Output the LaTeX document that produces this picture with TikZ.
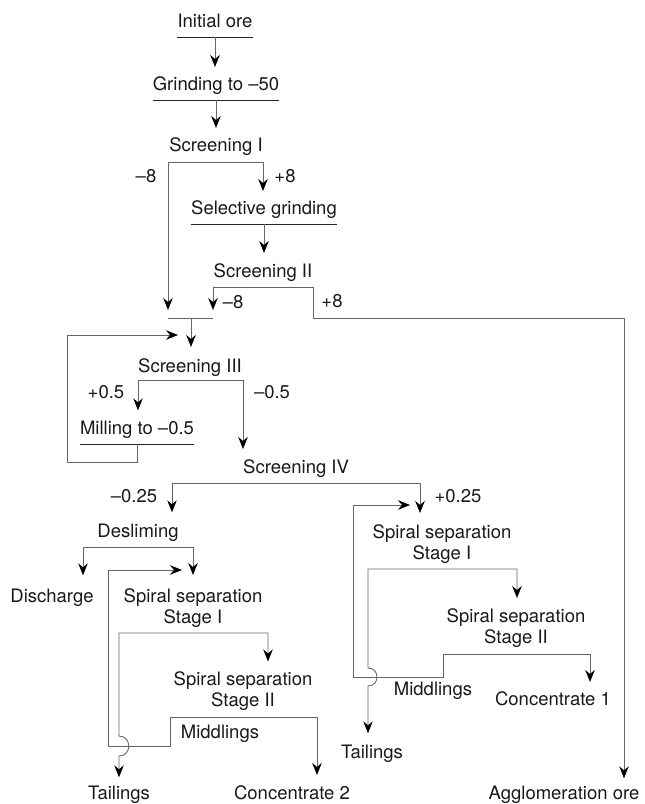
\documentclass[tikz,border=0pt]{standalone}
\usepackage{fontspec}
\setmainfont{TeX Gyre Heros}
\usetikzlibrary{arrows.meta}

\tikzset{
  txt/.style={anchor=base, inner sep=0pt, text=black!90, align=center,
    font=\fontsize{18.5}{21}\selectfont},
  flow/.style={draw=black!60, line width=0.9pt},
  underbar/.style={draw=black!85, line width=0.9pt},
  arr/.style={-{Stealth[length=12pt,width=9.5pt,inset=4pt,color=black]}},
  arrs/.style={{Stealth[length=12pt,width=9.5pt,inset=4pt,color=black]}-{Stealth[length=12pt,width=9.5pt,inset=4pt,color=black]}},
}

\begin{document}
\begin{tikzpicture}[x=1pt,y=-1pt]
\useasboundingbox (0,0) rectangle (645,804);

% stages (two-line nodes sit on their last line)
\node[txt] (ore)    at (215,27)  {Initial ore};
\node[txt] (grind)  at (216,90)  {Grinding to –50};
\node[txt] (scrI)   at (216,151) {Screening I};
\node[txt] (selgr)  at (264,214) {Selective grinding};
\node[txt] (scrII)  at (263,277) {Screening II};
\node[txt] (scrIII) at (190,372) {Screening III};
\node[txt] (mill)   at (137,434) {Milling to –0.5};
\node[txt,anchor=base west] (scrIV) at (243,473) {Screening IV};
\node[txt] (desl)   at (138,537) {Desliming};
\node[txt] (disch)  at (52,602)  {Discharge};
\node[txt] (spIL)   at (193,623) {Spiral separation\\Stage I};
\node[txt] (spIIL)  at (243,706) {Spiral separation\\Stage II};
\node[txt] (midL)   at (220,738) {Middlings};
\node[txt] (tailL)  at (119,799) {Tailings};
\node[txt] (concII) at (292,799) {Concentrate 2};
\node[txt] (spIR)   at (442,559) {Spiral separation\\Stage I};
\node[txt] (spIIR)  at (516,643) {Spiral separation\\Stage II};
\node[txt] (midR)   at (433,695) {Middlings};
\node[txt] (concI)  at (553,705) {Concentrate 1};
\node[txt] (tailR)  at (372,758) {Tailings};
\node[txt] (aggl)   at (564,799) {Agglomeration ore};

% size classes
\node[txt] (mI)   at (146,182) {–8};
\node[txt] (pI)   at (285,182) {+8};
\node[txt] (mII)  at (233,308) {–8};
\node[txt] (pII)  at (332,307) {+8};
\node[txt] (pIII) at (106,398) {+0.5};
\node[txt] (mIII) at (272,398) {–0.5};
\node[txt] (mIV)  at (134,502) {–0.25};
\node[txt] (pIV)  at (458,502) {+0.25};

% underlines
\foreach \n in {ore,grind,selgr,mill}
  \draw[underbar] ([yshift=-10pt]\n.base west) -- ([yshift=-10pt]\n.base east);

% straight feeds
\draw[flow,arr,shorten >=9pt] ([yshift=-10pt]ore.base) -- (ore.base |- grind.north);
\draw[flow,arr,shorten >=9pt] ([yshift=-10pt]grind.base) -- (grind.base |- scrI.north);
\draw[flow,arr,shorten >=10pt] ([yshift=-10pt]selgr.base) -- (selgr.base |- scrII.north);

% screening I and II, merge
\coordinate (sIa) at (168,162);
\coordinate (sIb) at (263,162);
\coordinate (sIIa) at (213,287);
\coordinate (sIIb) at (313,287);
\coordinate (sIIc) at (313,318);
\coordinate (aggA) at (624,318);
\coordinate (mgA) at (168,318);
\coordinate (mgB) at (213,318);
\coordinate (mgC) at (191,318);
\draw[flow,arrs,shorten <=8pt,shorten >=9pt] (mgA) -- (sIa) -- (sIb) -- (sIb |- selgr.north);
\draw[flow,arrs,shorten <=8pt,shorten >=7pt] (mgB) -- (sIIa) -- (sIIb) -- (sIIc) -- (aggA) -- (aggA |- aggl.north);
\draw[flow] (mgA) -- (mgB);
\draw[flow,arr,shorten >=11pt] (mgC) -- (mgC |- scrIII.north);

% milling loop
\coordinate (rcA) at (137,462);
\coordinate (rcC) at (67,335);
\coordinate (rcD) at (178,335);
\draw[flow,arr] ([yshift=-10pt]mill.base) -- (rcA) -| (rcC) -- (rcD);

% screening III and IV
\coordinate (sIIIa) at (138,380);
\coordinate (sIIIb) at (243,380);
\draw[flow,arrs,shorten <=10pt,shorten >=10pt] (sIIIa |- mill.north) -- (sIIIa) -- (sIIIb) -- (sIIIb |- scrIV.north);
\coordinate (sIVa) at (172,483);
\coordinate (sIVb) at (420,483);
\draw[flow,arrs,shorten <=11pt,shorten >=11pt] (sIVa |- desl.north) -- (sIVa) -- (sIVb) -- (sIVb |- spIR.north);

% desliming
\coordinate (dsa) at (83,547);
\coordinate (dsb) at (193,547);
\draw[flow,arrs,shorten <=13pt,shorten >=13pt] (dsa |- disch.north) -- (dsa) -- (dsb) -- (dsb |- spIL.north);

% left spirals
\coordinate (rlA) at (317,717);
\coordinate (rlB) at (170,717);
\coordinate (rlC) at (170,746);
\coordinate (rlD) at (108,746);
\coordinate (rlE) at (108,570);
\coordinate (rlF) at (182,570);
\draw[flow,arrs,shorten <=10pt] (rlA |- concII.north) -- (rlA) -- (rlB) -- (rlC) -- (rlD) -- (rlE) -- (rlF);
\coordinate (blA) at (268,633);
\coordinate (blB) at (119,633);
\coordinate (xL) at (blB |- rlC);
\draw[flow,arrs,shorten <=9.5pt,shorten >=8pt] (blA |- spIIL.north) -- (blA) -- (blB) -- ([yshift=10pt]xL)
  .. controls +(13,0) and +(13,0) .. ([yshift=-10pt]xL) -- (blB |- tailL.north);

% right spirals
\coordinate (rrA) at (590,654);
\coordinate (rrB) at (443,654);
\coordinate (rrC) at (443,677);
\coordinate (rrD) at (353,677);
\coordinate (rrE) at (353,505);
\coordinate (rrF) at (410,505);
\draw[flow,arrs,shorten <=9pt] (rrA |- concI.north) -- (rrA) -- (rrB) -- (rrC) -- (rrD) -- (rrE) -- (rrF);
\coordinate (brA) at (517,569);
\coordinate (brB) at (368,569);
\coordinate (xR) at (brB |- rrC);
\draw[flow,arrs,shorten <=10pt,shorten >=11pt] (brA |- spIIR.north) -- (brA) -- (brB) -- ([yshift=9pt]xR)
  .. controls +(12,0) and +(12,0) .. ([yshift=-9pt]xR) -- (brB |- tailR.north);

\end{tikzpicture}
\end{document}
